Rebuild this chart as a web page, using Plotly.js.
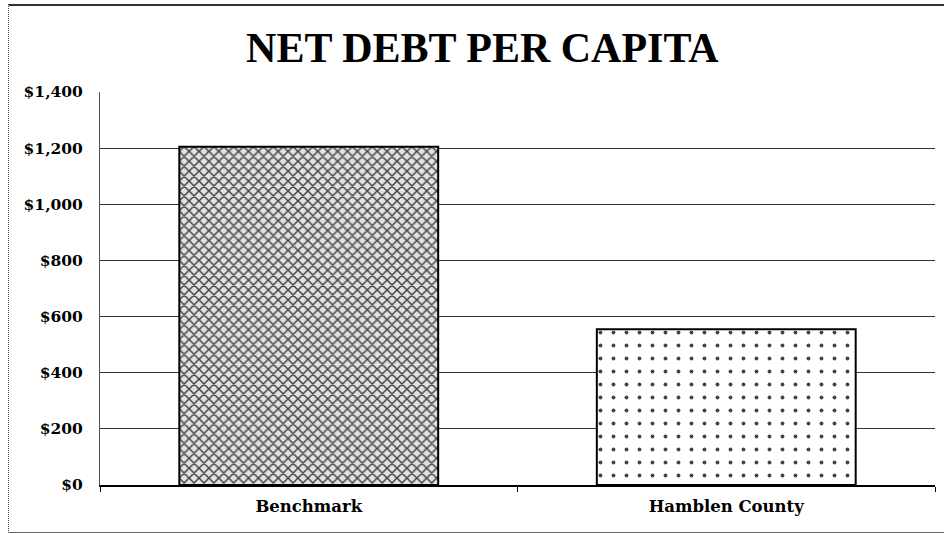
<!DOCTYPE html>
<html>
<head>
<meta charset="utf-8">
<script src="https://cdn.plot.ly/plotly-3.0.1.min.js"></script>
<style>
html,body{margin:0;padding:0;background:#fff;}
#wrap{position:relative;width:944px;height:533px;}
#chart{width:944px;height:533px;}
#frame{position:absolute;left:8px;top:4px;width:940px;height:526px;border-left:1px dotted #444;border-top:2px solid #333;border-bottom:1px solid #666;pointer-events:none;}
</style>
</head>
<body>
<div id="wrap">
<div id="chart"></div>
<div id="frame"></div>
</div>
<script>
const categories = ["Benchmark", "Hamblen County"];
const netDebtPerCapita = [1205, 555];
const yTickValues = [0, 200, 400, 600, 800, 1000, 1200, 1400];
const yTickLabels = ["$0", "$200", "$400", "$600", "$800", "$1,000", "$1,200", "$1,400"];
const chartTitle = "NET DEBT PER CAPITA";

const trace = {
  type: "bar",
  x: categories,
  y: netDebtPerCapita,
  marker: {
    color: ["#e2e2e2", "#ffffff"],
    opacity: 1,
    line: {color: "#000", width: 2},
    pattern: {
      shape: ["x", "."],
      fillmode: "overlay",
      fgcolor: ["#4a4a4a", "#777777"],
      fgopacity: 1,
      size: [7, 13],
      solidity: [0.38, 0.07]
    }
  },
  hoverinfo: "skip"
};

const layout = {
  width: 944,
  height: 533,
  margin: {l: 100, r: 9, t: 92, b: 48},
  paper_bgcolor: "#fff",
  plot_bgcolor: "#fff",
  showlegend: false,
  bargap: 0.38,
  title: {
    text: "<b>" + chartTitle + "</b>",
    font: {family: "Liberation Serif, Times New Roman, serif", size: 42, color: "#000"},
    xref: "container", x: 0.511, xanchor: "center",
    yref: "container", y: 0.912, yanchor: "middle"
  },
  xaxis: {
    type: "category",
    showgrid: false,
    showline: true,
    linecolor: "#000",
    linewidth: 1.5,
    ticks: "outside",
    tickson: "boundaries",
    ticklen: 5,
    tickcolor: "#000",
    ticklabelstandoff: 6,
    tickfont: {family: "DejaVu Serif, serif", size: 16.5, color: "#000", weight: "bold"}
  },
  yaxis: {
    range: [0, 1400],
    tickvals: yTickValues,
    ticktext: yTickLabels,
    showgrid: true,
    gridcolor: "#333",
    gridwidth: 1,
    showline: true,
    linecolor: "#555",
    linewidth: 1,
    zeroline: false,
    ticks: "",
    ticklabelstandoff: 13,
    tickfont: {family: "DejaVu Serif, serif", size: 15.5, color: "#000", weight: "bold"}
  }
};

Plotly.newPlot("chart", [trace], layout, {staticPlot: true, displayModeBar: false});
</script>
</body>
</html>
